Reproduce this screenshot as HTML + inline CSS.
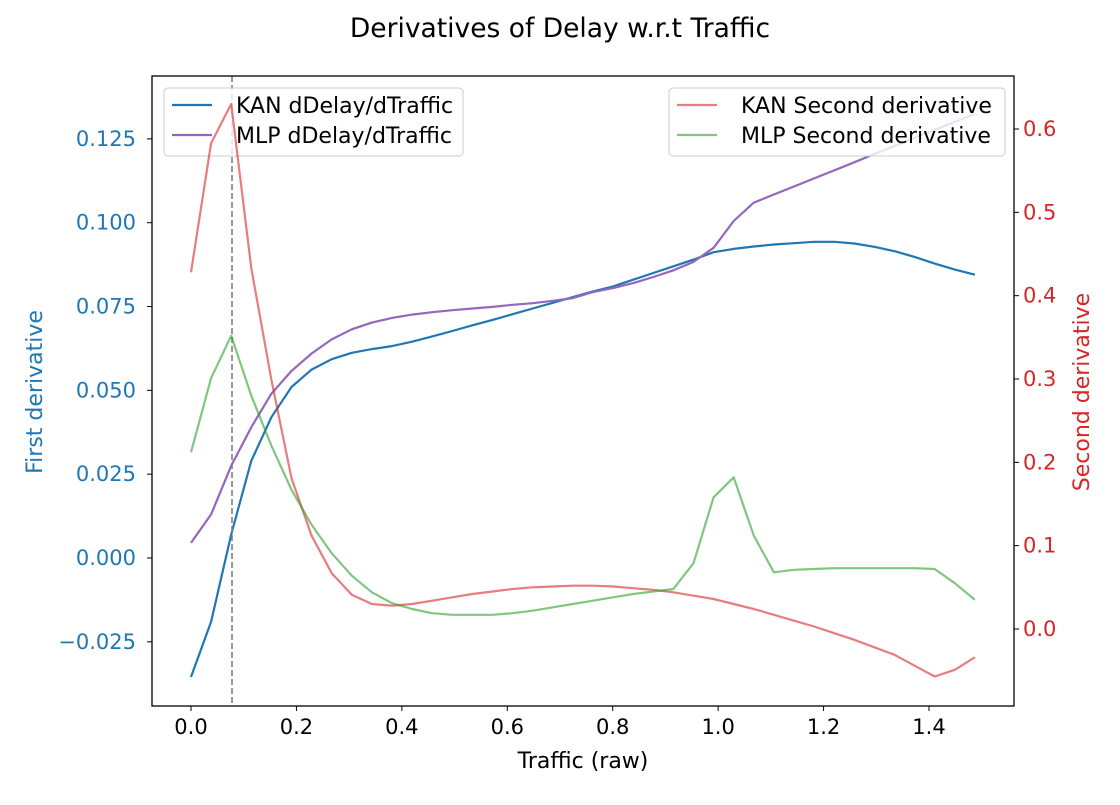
<!DOCTYPE html>
<html><head><meta charset="utf-8"><style>
body{margin:0;background:#fff;}
svg text{font-family:"DejaVu Sans","Liberation Sans",sans-serif;}
</style></head><body>
<svg id="chart" width="1120" height="800" viewBox="0 0 1120 800"></svg>
<script>
const xValues = Array.from({length:40},(_,i)=>i*1.487/39);
const kanFirst = [-0.0355,-0.019,0.007,0.029,0.042,0.051,0.0562,0.0593,0.0612,0.0623,0.0632,0.0645,0.0661,0.0677,0.0694,0.071,0.0727,0.0744,0.0761,0.0778,0.0795,0.081,0.083,0.085,0.087,0.089,0.0912,0.0922,0.0929,0.0935,0.0939,0.0943,0.0943,0.0938,0.0928,0.0915,0.0898,0.0878,0.086,0.0845];
const mlpFirst = [0.0045,0.013,0.0275,0.039,0.049,0.0558,0.061,0.0652,0.0682,0.0702,0.0716,0.0726,0.0733,0.0739,0.0744,0.0749,0.0755,0.076,0.0767,0.0775,0.0793,0.0805,0.082,0.0838,0.0858,0.0883,0.0925,0.1005,0.106,0.1084,0.1108,0.1132,0.1156,0.118,0.1205,0.1229,0.1253,0.1277,0.1301,0.1325];
const kanSecond = [0.428,0.583,0.630,0.433,0.299,0.181,0.112,0.067,0.041,0.030,0.028,0.030,0.034,0.038,0.042,0.045,0.048,0.050,0.051,0.052,0.052,0.051,0.049,0.047,0.044,0.040,0.036,0.030,0.024,0.017,0.010,0.003,-0.005,-0.013,-0.022,-0.031,-0.044,-0.057,-0.049,-0.034];
const mlpSecond = [0.212,0.301,0.352,0.280,0.220,0.167,0.125,0.091,0.064,0.044,0.031,0.024,0.019,0.017,0.017,0.017,0.019,0.022,0.026,0.030,0.034,0.038,0.042,0.045,0.048,0.079,0.158,0.182,0.112,0.068,0.071,0.072,0.073,0.073,0.073,0.073,0.073,0.072,0.055,0.035];
const xTicks = [0,0.2,0.4,0.6,0.8,1.0,1.2,1.4];
const xTickLabels = ["0.0","0.2","0.4","0.6","0.8","1.0","1.2","1.4"];
const yLeftTicks = [-0.025,0,0.025,0.05,0.075,0.1,0.125];
const yLeftLabels = ["\u22120.025","0.000","0.025","0.050","0.075","0.100","0.125"];
const yRightTicks = [0,0.1,0.2,0.3,0.4,0.5,0.6];
const yRightLabels = ["0.0","0.1","0.2","0.3","0.4","0.5","0.6"];
const markerX = 0.0778;

const L=152,R=1014,T=76,B=706;
const xs=v=>191+v*(929-191)/1.4;
const yl=v=>558-v*3353;
const yr=v=>629-v*833.3;
const svg=document.getElementById('chart');
const NS='http://www.w3.org/2000/svg';
function mk(tag,attrs,parent){const e=document.createElementNS(NS,tag);for(const k in attrs)e.setAttribute(k,attrs[k]);(parent||svg).appendChild(e);return e;}
function txt(s,attrs,name){const e=mk('text',attrs);e.textContent=s;


return e;}

txt('Derivatives of Delay w.r.t Traffic',{x:560,y:37,'text-anchor':'middle','font-size':26.5},'chart-title');

xTicks.forEach((v,i)=>{const x=xs(v);
const t=mk('line',{x1:x,x2:x,y1:B,y2:B+5,stroke:'#000','stroke-width':1});


txt(xTickLabels[i],{x:x,y:B+28,'text-anchor':'middle','font-size':21},'x-tick-label');});
txt('Traffic (raw)',{x:583,y:768,'text-anchor':'middle','font-size':22},'x-axis-title');

yLeftTicks.forEach((v,i)=>{const y=yl(v);
const t=mk('line',{x1:L-5,x2:L,y1:y,y2:y,stroke:'#000','stroke-width':1});


txt(yLeftLabels[i],{x:L-16,y:y+7,'text-anchor':'end','font-size':21,fill:'#1f77b4'},'y-left-tick-label');});
txt('First derivative',{x:42,y:392,'text-anchor':'middle','font-size':22,fill:'#1f77b4',transform:'rotate(-90 42 392)'},'y-left-axis-title');

yRightTicks.forEach((v,i)=>{const y=yr(v);
const t=mk('line',{x1:R,x2:R+5,y1:y,y2:y,stroke:'#000','stroke-width':1});


txt(yRightLabels[i],{x:R+9,y:y+7,'text-anchor':'start','font-size':21,fill:'#d62728'},'y-right-tick-label');});
txt('Second derivative',{x:1089,y:392,'text-anchor':'middle','font-size':22,fill:'#d62728',transform:'rotate(-90 1089 392)'},'y-right-axis-title');

function line(vals,ys,color,name){const d=vals.map((v,i)=>(i?'L':'M')+xs(xValues[i]).toFixed(1)+','+ys(v).toFixed(1)).join('');
const p=mk('path',{d:d,fill:'none',stroke:color,'stroke-width':2.2,'stroke-linejoin':'round'});

}
function legend(x,y,w,items,name){const g=mk('g',{});


mk('rect',{x:x,y:y,width:w,height:68,rx:4,fill:'#fff','fill-opacity':0.8,stroke:'#ccc'},g);
items.forEach((it,i)=>{const yy=y+17+i*30;
mk('line',{x1:x+8,x2:x+48,y1:yy,y2:yy,stroke:it[1],'stroke-width':2.2},g);
const t=mk('text',{x:x+72,y:yy+8,'font-size':22},g);t.textContent=it[0];

});}

line(kanFirst,yl,'#1f77b4','kan-first-derivative-line');
line(mlpFirst,yl,'#9467bd','mlp-first-derivative-line');
const dv=mk('line',{x1:xs(markerX),x2:xs(markerX),y1:T,y2:B,stroke:'#808080','stroke-width':1.6,'stroke-dasharray':'6,3'});


legend(164,88,299,[['KAN dDelay/dTraffic','#1f77b4'],['MLP dDelay/dTraffic','#9467bd']],'legend-first');
line(kanSecond,yr,'rgba(214,39,40,0.6)','kan-second-derivative-line');
line(mlpSecond,yr,'rgba(44,160,44,0.6)','mlp-second-derivative-line');
legend(669,88,336,[['KAN Second derivative','rgba(214,39,40,0.6)'],['MLP Second derivative','rgba(44,160,44,0.6)']],'legend-second');
const fr=mk('rect',{x:L,y:T,width:R-L,height:B-T,fill:'none',stroke:'#000','stroke-width':1.3});


</script>
</body></html>
